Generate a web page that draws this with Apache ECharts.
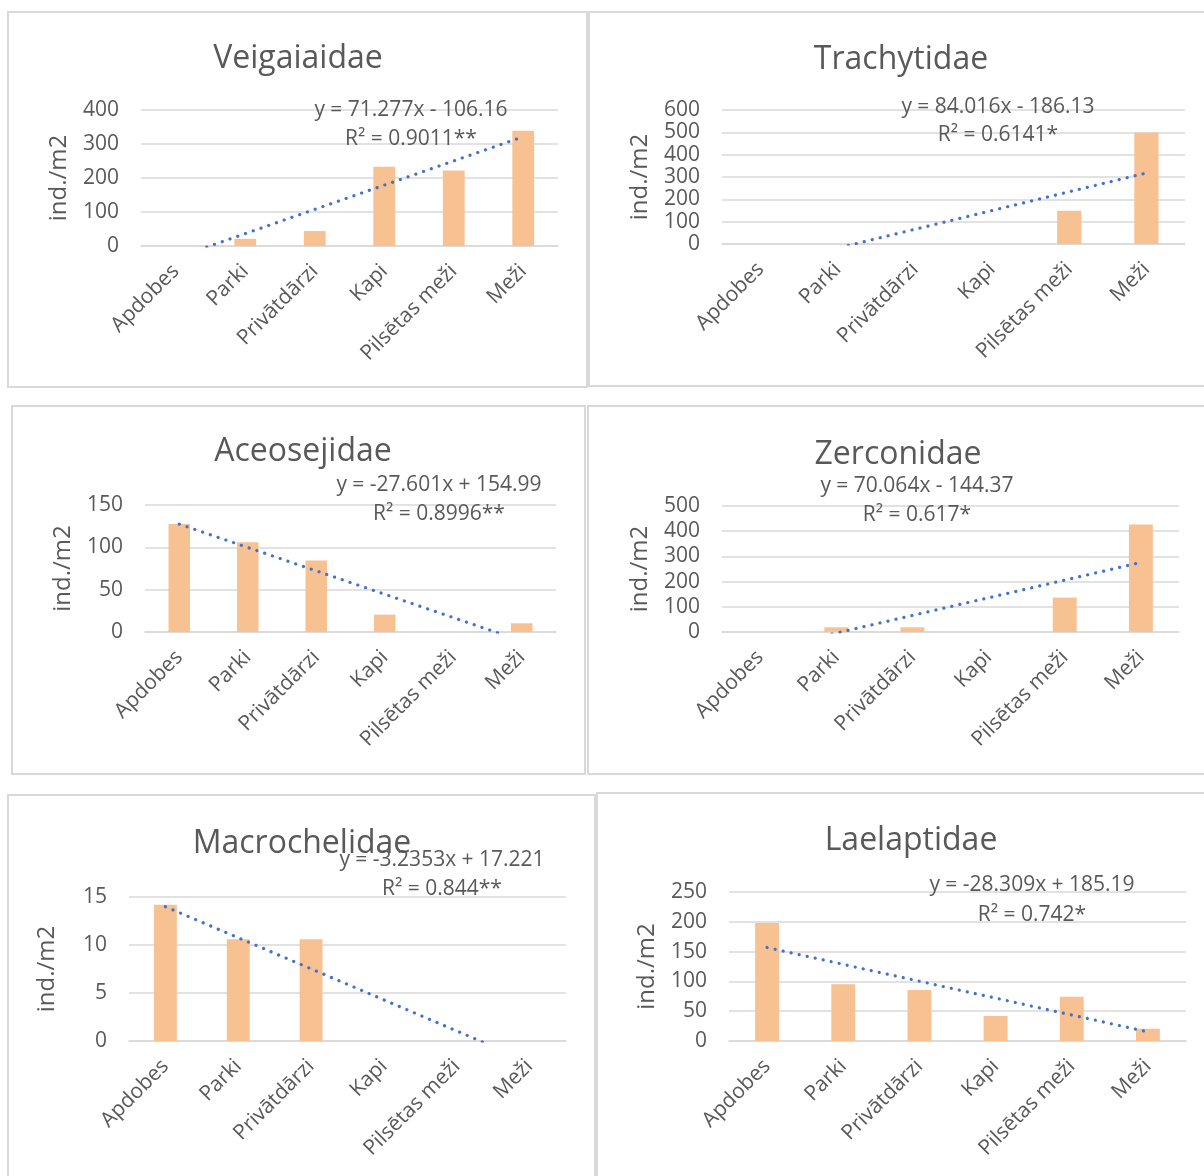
<!DOCTYPE html>
<html>
<head>
<meta charset="utf-8">
<script src="https://cdn.jsdelivr.net/npm/echarts@6/dist/echarts.min.js"></script>
<style>
  html, body { margin: 0; padding: 0; background: #fff; }
  #chart { width: 1204px; height: 1176px; }
</style>
</head>
<body>
<div id="chart"></div>
<script>
const categories = ['Apdobes', 'Parki', 'Privātdārzi', 'Kapi', 'Pilsētas meži', 'Meži']

// ind./m2 per habitat
const veigaiaidae   = [0, 21, 44, 233, 222, 339]
const trachytidae   = [0, 0, 0, 0, 148.7, 498.9]
const aceosejidae   = [127.5, 106, 84.5, 20.5, 0, 10.3]
const zerconidae    = [0, 18.6, 18.6, 0, 136.6, 427]
const macrochelidae = [14.2, 10.6, 10.6, 0, 0, 0]
const laelaptidae   = [198, 95.4, 85.4, 41.9, 74.2, 20.6]

// trend line value at Apdobes and at Meži (from the printed equations)
const veigaiaidaeTrend   = [-34.88, 321.50]
const trachytidaeTrend   = [-102.11, 317.97]
const aceosejidaeTrend   = [127.39, -10.62]
const zerconidaeTrend    = [-74.31, 276.01]
const macrochelidaeTrend = [13.99, -2.19]
const laelaptidaeTrend   = [156.88, 15.34]

const titles    = ['Veigaiaidae', 'Trachytidae', 'Aceosejidae', 'Zerconidae', 'Macrochelidae', 'Laelaptidae']
const equations = ['y = 71.277x - 106.16', 'y = 84.016x - 186.13', 'y = -27.601x + 154.99',
                   'y = 70.064x - 144.37', 'y = -3.2353x + 17.221', 'y = -28.309x + 185.19']
const rSquared  = ['R² = 0.9011**', 'R² = 0.6141*', 'R² = 0.8996**', 'R² = 0.617*', 'R² = 0.844**', 'R² = 0.742*']
const yMax  = [400, 600, 150, 500, 15, 250]
const yStep = [100, 100, 50, 100, 5, 50]

const values = [veigaiaidae, trachytidae, aceosejidae, zerconidae, macrochelidae, laelaptidae]
const trends = [veigaiaidaeTrend, trachytidaeTrend, aceosejidaeTrend, zerconidaeTrend, macrochelidaeTrend, laelaptidaeTrend]

// layout of each framed panel (pixels)
const panels = [
  { box: [8, 12, 579, 375],    grid: [141, 110, 417, 136], title: [298, 59],  eq: [411, 110, 139] },
  { box: [589, 12, 630, 374],  grid: [722, 110, 463, 134], title: [901, 60],  eq: [998, 107, 135] },
  { box: [12, 406, 573, 368],  grid: [145, 505, 411, 127], title: [303, 452], eq: [439, 485, 514] },
  { box: [588, 406, 630, 368], grid: [722, 506, 457, 126], title: [898, 455], eq: [917, 486, 515] },
  { box: [8, 795, 587, 400],   grid: [129, 897, 437, 144], title: [302, 844], eq: [442, 860, 889] },
  { box: [597, 793, 620, 400], grid: [729, 892, 457, 149], title: [911, 841], eq: [1032, 885, 915] }
]

const font = 'Open Sans'
const textColor = '#595959'
const gridColor = '#D9D9D9'

const chart = echarts.init(document.getElementById('chart'))

const graphic = []
panels.forEach((p, i) => {
  graphic.push({ type: 'rect', silent: true, shape: { x: p.box[0], y: p.box[1], width: p.box[2], height: p.box[3] },
    style: { fill: 'none', stroke: gridColor, lineWidth: 2 } })
  graphic.push({ type: 'text', silent: true, x: p.title[0], y: p.title[1],
    style: { text: titles[i], fill: textColor, font: `32px "${font}"`, align: 'center', verticalAlign: 'middle' } })
  graphic.push({ type: 'text', silent: true, x: p.eq[0], y: p.eq[1], z: 10,
    style: { text: equations[i], fill: textColor, font: `21px "${font}"`, align: 'center', verticalAlign: 'middle' } })
  graphic.push({ type: 'text', silent: true, x: p.eq[0], y: p.eq[2], z: 10,
    style: { text: rSquared[i], fill: textColor, font: `21px "${font}"`, align: 'center', verticalAlign: 'middle' } })
})

const option = {
  animation: false,
  backgroundColor: '#fff',
  grid: panels.map(p => ({ left: p.grid[0], top: p.grid[1], width: p.grid[2], height: p.grid[3] })),
  xAxis: panels.map((p, i) => ({
    type: 'category', gridIndex: i, data: categories,
    axisTick: { show: false },
    axisLine: { lineStyle: { color: gridColor, width: 1.5 } },
    axisLabel: { rotate: 45, interval: 0, margin: 22, fontSize: 21, color: textColor, fontFamily: font }
  })),
  yAxis: panels.map((p, i) => ({
    type: 'value', gridIndex: i, min: 0, max: yMax[i], interval: yStep[i],
    axisLine: { show: false }, axisTick: { show: false },
    axisLabel: { margin: 22, fontSize: 21, color: textColor, fontFamily: font },
    splitLine: { lineStyle: { color: gridColor, width: 1.5 } },
    name: 'ind./m2', nameLocation: 'middle', nameGap: 70,
    nameTextStyle: { fontSize: 24, color: textColor, fontFamily: font }
  })),
  graphic,
  series: [
    ...values.map((v, i) => ({
      type: 'bar', xAxisIndex: i, yAxisIndex: i, data: v,
      barCategoryGap: '68.6%',
      itemStyle: { color: '#F8C191' }
    })),
    ...trends.map((t, i) => ({
      type: 'line', xAxisIndex: i, yAxisIndex: i, data: [[0, t[0]], [5, t[1]]],
      symbol: 'none', clip: true, z: 5,
      lineStyle: { color: '#4472C4', width: 3.2, type: [0.1, 8.1], cap: 'round' }
    }))
  ]
}

chart.setOption(option)
</script>
</body>
</html>
